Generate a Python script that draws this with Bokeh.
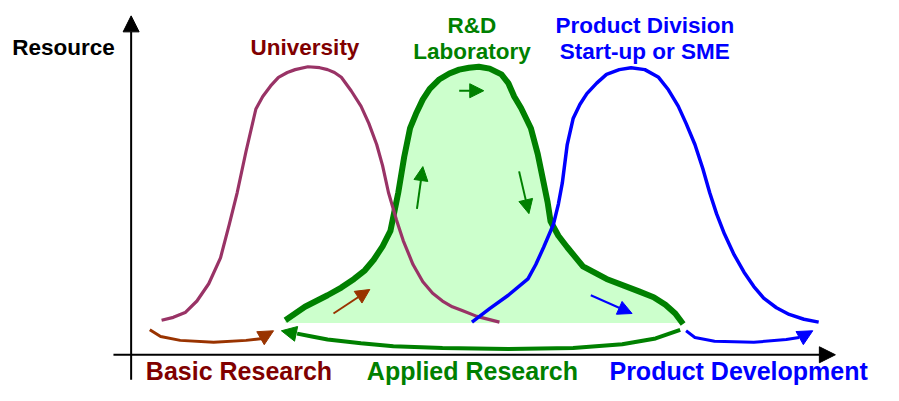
from bokeh.plotting import figure
from bokeh.models import Range1d, Arrow, NormalHead, ColumnDataSource
from bokeh.core.properties import value
from bokeh.embed import file_html
from bokeh.resources import INLINE

# ---- data (in picture pixels) ----
univ_x = [164, 176, 188, 200, 212, 224, 233, 241, 250, 260, 267, 275, 283, 292, 300, 313, 325, 333, 340, 347, 357, 367, 375, 383, 389, 395, 403, 410, 420, 430, 440, 450, 460, 470, 485, 508]
univ_y = [333, 330, 325, 313, 295, 268, 233, 200, 157, 113, 100, 89, 80, 75, 72, 69, 70, 72, 75, 80, 94, 110, 128, 150, 172, 200, 228, 250, 275, 293, 305, 313, 319, 323, 329, 335]

lab_x = [290, 310, 333, 347, 360, 371, 380, 389, 397, 403, 405, 411, 417, 423, 430, 437, 447, 457, 467, 477, 487, 498, 510, 517, 523, 530, 540, 547, 553, 557, 560, 568, 577, 593, 617, 650, 665, 677, 687, 695]
lab_y = [333, 319, 307, 299, 290, 281, 270, 256, 240, 210, 200, 163, 133, 118, 103, 92, 82, 76, 72, 70, 69, 71, 77, 86, 100, 112, 133, 160, 190, 210, 230, 245, 257, 277, 290, 303, 309, 317, 326, 337]
fill_base = 336

prod_x = [480, 498, 517, 537, 545, 553, 563, 568, 572, 577, 583, 590, 597, 607, 617, 630, 642, 656, 670, 680, 690, 698, 707, 715, 722, 729, 737, 747, 757, 767, 777, 790, 803, 818, 833]
prod_y = [335, 321, 307, 290, 275, 257, 233, 212, 190, 150, 123, 108, 97, 86, 77, 72, 70, 72, 80, 93, 110, 128, 150, 175, 200, 222, 243, 265, 283, 298, 310, 320, 327, 332, 335]

basic_x = [152, 163, 183, 217, 250, 267]
basic_y = [343, 350, 354, 356, 354, 352]
basic_head = [266, 351, 278, 344]

applied_x = [692, 667, 633, 583, 517, 450, 400, 367, 333, 317, 302]
applied_y = [343, 352, 358, 362, 363, 362, 360, 357, 353, 350, 347]
applied_head = [300, 347, 286, 344]

devel_x = [698, 707, 727, 767, 800, 813]
devel_y = [344, 351, 355, 356, 353, 351]
devel_head = [813, 352, 827, 344]

# small arrows: x_start, y_start, x_end, y_end
small_arrows = {
    "brown": [339, 326, 376, 301],
    "up": [424, 217, 430, 173],
    "right": [467, 94, 492, 94],
    "down": [528, 178, 538, 222],
    "blue": [601, 307, 643, 326],
}

# axes
yaxis_line = [133, 395, 133, 16]
xaxis_line = [115, 369, 850, 369]

top_labels = ["Resource", "University", "R&D", "Laboratory", "Product Division", "Start-up or SME"]
top_x = [12, 310, 480, 480, 656, 656]
top_y = [48.5, 48.5, 26, 53, 26, 53.5]
top_align = ["left", "center", "center", "center", "center", "center"]
top_color = ["#000000", "#800000", "#008000", "#008000", "#0000FF", "#0000FF"]

bottom_labels = ["Basic Research", "Applied Research", "Product Development"]
bottom_x = [148, 373, 620]
bottom_y = [386, 386, 386]
bottom_color = ["#800000", "#008000", "#0000FF"]

# ---- figure ----
p = figure(width=883, height=385, x_range=Range1d(0, 899), y_range=Range1d(401, 0),
           output_backend="svg", toolbar_location=None, min_border=0)
p.axis.visible = False
p.grid.visible = False
p.outline_line_color = None
p.background_fill_color = "white"

# axes with arrows
p.add_layout(Arrow(end=NormalHead(size=16, fill_color="black", line_color="black"),
                   x_start=yaxis_line[0], y_start=yaxis_line[1], x_end=yaxis_line[2], y_end=yaxis_line[3],
                   line_color="black", line_width=2))
p.add_layout(Arrow(end=NormalHead(size=16, fill_color="black", line_color="black"),
                   x_start=xaxis_line[0], y_start=xaxis_line[1], x_end=xaxis_line[2], y_end=xaxis_line[3],
                   line_color="black", line_width=2))

# green filled lab curve
p.varea(x=lab_x, y1=lab_y, y2=fill_base, fill_color="#CCFFCC")
p.line(lab_x, lab_y, line_color="#008000", line_width=6, line_join="round", line_cap="butt")
p.line(univ_x, univ_y, line_color="#993366", line_width=3.2, line_join="round")
p.line(prod_x, prod_y, line_color="#0000FF", line_width=3.5, line_join="round")

# bottom curved arrows
def curved_arrow(xs, ys, head, color, width):
    p.line(xs, ys, line_color=color, line_width=width, line_join="round")
    p.add_layout(Arrow(end=NormalHead(size=15, fill_color=color, line_color=color),
                       x_start=head[0], y_start=head[1], x_end=head[2], y_end=head[3],
                       line_color=color, line_width=width, line_alpha=0))

curved_arrow(basic_x, basic_y, basic_head, "#993300", 3)
curved_arrow(applied_x, applied_y, applied_head, "#008000", 4)
curved_arrow(devel_x, devel_y, devel_head, "#0000FF", 3)

# small arrows
small_colors = {"brown": "#993300", "up": "#008000", "right": "#008000", "down": "#008000", "blue": "#0000FF"}
for key, (xs, ys, xe, ye) in small_arrows.items():
    c = small_colors[key]
    p.add_layout(Arrow(end=NormalHead(size=14, fill_color=c, line_color=c),
                       x_start=xs, y_start=ys, x_end=xe, y_end=ye, line_color=c, line_width=2))

# texts
src_top = ColumnDataSource(dict(x=top_x, y=top_y, t=top_labels, a=top_align, c=top_color))
p.text(x="x", y="y", text="t", text_align="a", text_color="c", source=src_top,
       text_font=value("Liberation Sans"), text_font_style="bold", text_font_size="22.5px",
       text_baseline="middle")
src_bot = ColumnDataSource(dict(x=bottom_x, y=bottom_y, t=bottom_labels, c=bottom_color))
p.text(x="x", y="y", text="t", text_align="left", text_color="c", source=src_bot,
       text_font=value("Liberation Sans"), text_font_style="bold", text_font_size="25px",
       text_baseline="middle")

open("out.html", "w").write(file_html(p, INLINE))
